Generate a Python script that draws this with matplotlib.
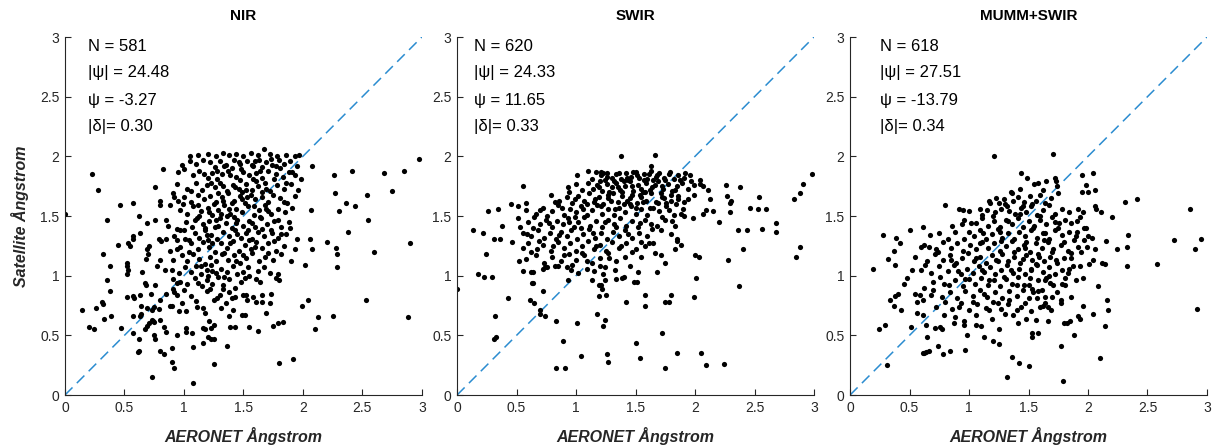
import matplotlib
matplotlib.use("Agg")
import matplotlib.pyplot as plt

plt.rcParams['font.family'] = ['Liberation Sans', 'DejaVu Sans']

# ---- data (AERONET vs satellite Angstrom) ----
titles = ["NIR", "SWIR", "MUMM+SWIR"]
n_vals = ["581", "620", "618"]
abs_psi = ["24.48", "24.33", "27.51"]
psi = ["-3.27", "11.65", "-13.79"]
abs_delta = ["0.30", "0.33", "0.34"]
ticks = [0, 0.5, 1, 1.5, 2, 2.5, 3]
tick_labels = ["0", "0.5", "1", "1.5", "2", "2.5", "3"]

nir_pts = [
    (1.12, 2.01), (1.2, 2.02), (1.27, 2.0), (1.33, 2.03), (1.38, 2.01), (1.44, 2.02), (1.5, 2.0), (1.56, 2.03),
    (1.62, 2.01), (1.67, 2.06), (1.72, 2.02), (1.78, 2.0), (1.86, 2.01), (1.93, 2.0), (1.97, 2.01), (1.05, 2.0),
    (0.98, 1.93), (1.05, 1.96), (1.1, 1.94), (1.16, 1.97), (1.22, 1.95), (1.3, 1.96), (1.35, 1.93), (1.42, 1.97),
    (1.47, 1.94), (1.53, 1.96), (1.58, 1.92), (1.63, 1.97), (1.69, 1.95), (1.74, 1.93), (1.8, 1.97), (1.84, 1.94),
    (1.89, 1.96), (1.95, 1.92), (2.08, 1.92), (1.26, 1.91), (1.4, 1.9), (1.66, 1.91), (2.98, 1.98),
    (0.82, 1.89), (0.95, 1.87), (1.0, 1.89), (1.08, 1.84), (1.13, 1.88), (1.2, 1.82), (1.24, 1.86), (1.32, 1.85),
    (1.37, 1.88), (1.44, 1.83), (1.5, 1.87), (1.55, 1.84), (1.61, 1.86), (1.66, 1.82), (1.71, 1.88), (1.77, 1.85),
    (1.83, 1.83), (1.88, 1.87), (1.93, 1.84), (1.98, 1.81), (2.26, 1.84), (2.41, 1.88), (2.68, 1.86), (2.85, 1.88),
    (0.23, 1.85), (1.28, 1.81), (1.47, 1.8), (1.58, 1.81),
    (0.28, 1.72), (0.76, 1.74), (0.94, 1.77), (1.03, 1.73), (1.1, 1.78), (1.15, 1.72), (1.19, 1.76), (1.26, 1.74),
    (1.3, 1.78), (1.36, 1.71), (1.41, 1.76), (1.46, 1.73), (1.52, 1.77), (1.57, 1.72), (1.62, 1.75), (1.68, 1.78),
    (1.72, 1.71), (1.78, 1.76), (1.84, 1.73), (1.9, 1.77), (1.96, 1.72), (2.75, 1.71), (1.33, 1.75), (1.49, 1.7),
    (0.57, 1.61), (0.8, 1.63), (0.91, 1.69), (0.95, 1.63), (1.0, 1.66), (1.06, 1.62), (1.12, 1.68), (1.17, 1.64),
    (1.22, 1.67), (1.27, 1.62), (1.32, 1.66), (1.37, 1.69), (1.42, 1.63), (1.47, 1.67), (1.51, 1.61), (1.56, 1.68),
    (1.6, 1.64), (1.66, 1.66), (1.71, 1.62), (1.75, 1.68), (1.81, 1.65), (1.87, 1.61), (1.93, 1.67), (2.36, 1.61),
    (2.54, 1.68), (2.27, 1.69), (0.92, 1.66), (1.25, 1.6),
    (0.46, 1.59), (0.62, 1.5), (0.8, 1.59), (0.88, 1.59), (0.97, 1.55), (1.03, 1.52), (1.08, 1.58), (1.14, 1.54),
    (1.2, 1.57), (1.24, 1.51), (1.29, 1.55), (1.34, 1.59), (1.39, 1.52), (1.44, 1.56), (1.49, 1.53), (1.54, 1.58),
    (1.59, 1.51), (1.63, 1.55), (1.68, 1.59), (1.73, 1.52), (1.79, 1.56), (1.85, 1.53), (1.91, 1.57), (2.07, 1.55),
    (2.30, 1.54), (2.44, 1.58), (1.13, 1.5), (1.36, 1.5), (0.0, 1.52),
    (0.35, 1.47), (0.69, 1.44), (0.76, 1.47), (0.85, 1.47), (0.87, 1.42), (0.94, 1.39), (0.97, 1.38), (1.02, 1.45),
    (1.07, 1.41), (1.11, 1.48), (1.16, 1.43), (1.21, 1.46), (1.26, 1.41), (1.3, 1.48), (1.35, 1.44), (1.4, 1.4),
    (1.45, 1.47), (1.5, 1.42), (1.55, 1.46), (1.6, 1.41), (1.65, 1.48), (1.7, 1.43), (1.76, 1.46), (1.82, 1.41),
    (1.88, 1.45), (2.55, 1.47), (1.18, 1.4), (1.42, 1.49),
    (0.63, 1.36), (0.57, 1.33), (0.57, 1.31), (0.79, 1.31), (0.81, 1.29), (0.85, 1.31), (0.92, 1.33), (0.94, 1.30),
    (1.01, 1.31), (1.04, 1.3), (1.09, 1.36), (1.13, 1.32), (1.18, 1.38), (1.23, 1.34), (1.28, 1.31), (1.33, 1.37),
    (1.38, 1.33), (1.43, 1.38), (1.48, 1.32), (1.52, 1.36), (1.57, 1.31), (1.62, 1.37), (1.67, 1.33), (1.73, 1.38),
    (1.79, 1.32), (1.86, 1.35), (1.95, 1.31), (2.06, 1.31), (2.38, 1.37), (1.2, 1.3),
    (0.53, 1.27), (0.55, 1.25), (0.45, 1.26), (0.69, 1.22), (0.71, 1.25), (0.97, 1.24), (0.94, 1.22), (1.06, 1.27),
    (1.12, 1.22), (1.16, 1.28), (1.21, 1.24), (1.26, 1.2), (1.31, 1.27), (1.36, 1.23), (1.41, 1.29), (1.46, 1.21),
    (1.51, 1.26), (1.56, 1.22), (1.61, 1.28), (1.66, 1.23), (1.71, 1.27), (1.77, 1.21), (1.84, 1.25), (1.93, 1.22),
    (2.08, 1.22), (2.2, 1.28), (2.28, 1.23), (2.90, 1.27), (2.60, 1.2),
    (0.32, 1.18), (0.52, 1.11), (0.68, 1.14), (0.7, 1.18), (0.8, 1.13), (0.91, 1.13), (0.98, 1.17), (1.03, 1.12),
    (1.08, 1.18), (1.13, 1.14), (1.18, 1.1), (1.22, 1.16), (1.27, 1.12), (1.32, 1.18), (1.37, 1.13), (1.42, 1.17),
    (1.47, 1.11), (1.52, 1.15), (1.57, 1.19), (1.63, 1.12), (1.68, 1.16), (1.75, 1.13), (1.82, 1.18), (2.29, 1.18),
    (1.9, 1.12),
    (0.38, 1.08), (0.52, 1.08), (0.53, 1.05), (0.77, 1.08), (0.9, 1.05), (0.96, 1.02), (1.01, 1.07), (1.06, 1.03),
    (1.1, 1.08), (1.14, 1.01), (1.19, 1.05), (1.23, 1.09), (1.27, 1.02), (1.31, 1.06), (1.36, 1.03), (1.41, 1.08),
    (1.45, 1.01), (1.5, 1.03), (1.55, 1.0), (1.62, 1.04), (1.67, 1.07), (1.72, 1.02), (1.79, 1.01), (2.02, 1.09),
    (2.29, 1.07), (0.65, 1.03), (1.2, 1.0),
    (0.35, 0.96), (0.67, 0.94), (0.68, 0.92), (0.76, 0.92), (0.91, 0.97), (0.94, 0.94), (0.97, 0.95), (1.03, 0.93),
    (1.09, 0.98), (1.15, 0.91), (1.19, 0.96), (1.24, 0.93), (1.29, 0.99), (1.33, 0.92), (1.38, 0.97), (1.43, 0.9),
    (1.48, 0.95), (1.51, 0.98), (1.61, 0.97), (1.77, 0.98), (1.8, 0.96), (1.22, 0.89), (0.52, 1.01),
    (0.38, 0.87), (0.52, 0.82), (0.57, 0.83), (0.58, 0.81), (0.63, 0.84), (0.72, 0.85), (0.85, 0.85), (0.91, 0.89),
    (0.94, 0.84), (1.0, 0.88), (1.06, 0.83), (1.19, 0.87), (1.25, 0.8), (1.28, 0.81), (1.33, 0.89), (1.38, 0.86),
    (1.43, 0.82), (1.5, 0.84), (1.52, 0.84), (1.58, 0.82), (1.66, 0.84), (1.73, 0.85), (1.53, 0.8), (2.04, 0.8),
    (2.53, 0.8), (1.4, 0.81),
    (0.14, 0.71), (0.26, 0.73), (0.31, 0.78), (0.32, 0.76), (0.64, 0.75), (0.69, 0.73), (0.73, 0.71), (0.75, 0.74),
    (0.79, 0.72), (0.8, 0.8), (0.88, 0.75), (0.9, 0.75), (0.96, 0.7), (1.02, 0.7), (1.1, 0.79), (1.11, 0.74),
    (1.16, 0.73), (1.31, 0.73), (1.35, 0.77), (1.41, 0.71), (1.61, 0.78), (1.66, 0.78), (1.72, 0.77), (1.99, 0.75),
    (0.33, 0.64), (0.39, 0.66), (0.57, 0.66), (0.63, 0.66), (0.64, 0.68), (0.73, 0.63), (0.74, 0.62), (0.75, 0.61),
    (0.8, 0.63), (1.21, 0.62), (1.38, 0.66), (1.49, 0.67), (1.51, 0.67), (1.69, 0.69), (1.83, 0.61), (1.79, 0.6),
    (2.25, 0.66), (2.13, 0.65), (2.88, 0.65), (0.71, 0.6),
    (0.2, 0.57), (0.24, 0.55), (0.47, 0.56), (0.57, 0.52), (0.69, 0.58), (0.67, 0.55), (0.83, 0.57), (0.85, 0.53),
    (1.02, 0.56), (1.02, 0.53), (1.07, 0.52), (1.18, 0.55), (1.16, 0.56), (1.23, 0.56), (1.25, 0.59), (1.43, 0.57),
    (1.39, 0.57), (1.55, 0.57), (1.62, 0.54), (1.75, 0.58), (2.1, 0.55), (0.94, 0.5),
    (0.62, 0.47), (0.75, 0.5), (0.76, 0.47), (0.9, 0.39), (1.08, 0.4), (1.16, 0.44), (1.2, 0.49), (1.23, 0.47),
    (1.25, 0.47), (1.36, 0.41),
    (0.61, 0.36), (0.62, 0.37), (0.8, 0.37), (0.83, 0.34), (0.9, 0.28), (0.92, 0.23), (0.73, 0.15), (1.08, 0.1),
    (1.25, 0.26), (1.8, 0.27), (1.92, 0.3),
    (1.17, 1.85), (1.23, 1.78), (1.29, 1.69), (1.34, 1.92), (1.39, 1.84), (1.43, 1.74), (1.48, 1.89), (1.53, 1.66),
    (1.57, 1.93), (1.61, 1.79), (1.64, 1.88), (1.69, 1.73), (1.73, 1.98), (1.76, 1.81), (1.81, 1.9), (1.86, 1.78),
    (1.91, 1.87), (1.21, 1.53), (1.27, 1.47), (1.33, 1.63), (1.38, 1.56), (1.44, 1.44), (1.49, 1.64), (1.54, 1.38),
    (1.59, 1.58), (1.64, 1.49), (1.69, 1.56), (1.74, 1.36), (1.79, 1.47), (1.84, 1.62), (1.89, 1.4), (1.19, 1.34),
    (1.24, 1.27), (1.29, 1.42), (1.34, 1.19), (1.39, 1.27), (1.45, 1.35), (1.5, 1.17), (1.55, 1.3), (1.6, 1.24),
    (1.66, 1.39), (1.71, 1.19), (1.76, 1.29), (1.14, 1.08), (1.24, 1.04), (1.34, 0.99), (1.44, 1.12), (1.54, 1.07),
    (1.64, 0.95), (1.04, 1.2), (1.09, 1.47), (1.0, 1.38), (0.99, 1.6), (1.06, 1.71), (1.12, 1.59), (1.28, 1.88),
    (1.46, 1.95), (1.6, 1.96), (1.77, 1.92), (1.66, 1.7), (1.52, 1.72), (1.4, 1.61), (1.31, 1.52), (1.57, 1.44),
    (1.71, 1.54), (1.82, 1.35), (0.88, 1.21), (0.84, 1.05), (0.92, 0.86), (1.12, 0.94), (1.3, 0.84), (0.98, 0.77),
    (1.18, 0.69),
]

swir_pts = [
    (1.38, 2.0), (1.66, 2.01), (1.17, 1.87), (1.1, 1.88), (1.21, 1.87), (1.63, 1.92),
    (1.26, 1.86), (1.3, 1.82), (1.34, 1.85), (1.38, 1.81), (1.42, 1.86), (1.46, 1.83), (1.5, 1.87), (1.53, 1.82),
    (1.57, 1.85), (1.6, 1.81), (1.63, 1.88), (1.67, 1.83), (1.7, 1.86), (1.74, 1.82), (1.78, 1.85), (1.82, 1.81),
    (1.86, 1.84), (1.91, 1.82), (1.96, 1.84), (2.04, 1.8), (2.98, 1.85), (1.24, 1.8), (1.44, 1.8), (1.65, 1.8),
    (1.01, 1.84), (1.21, 1.84),
    (0.55, 1.75), (0.93, 1.74), (1.0, 1.77), (1.05, 1.72), (1.1, 1.78), (1.14, 1.73), (1.18, 1.76), (1.22, 1.71),
    (1.26, 1.77), (1.3, 1.74), (1.34, 1.78), (1.37, 1.72), (1.41, 1.75), (1.45, 1.79), (1.48, 1.71), (1.52, 1.76),
    (1.55, 1.73), (1.59, 1.78), (1.62, 1.72), (1.66, 1.76), (1.69, 1.79), (1.73, 1.73), (1.77, 1.77), (1.81, 1.71),
    (1.85, 1.75), (1.89, 1.78), (1.94, 1.73), (1.99, 1.76), (2.07, 1.75), (2.11, 1.72), (2.04, 1.77), (2.26, 1.76),
    (2.38, 1.74), (2.91, 1.77), (1.28, 1.7), (1.58, 1.7), (1.2, 1.79), (1.4, 1.79),
    (0.45, 1.6), (0.58, 1.61), (0.79, 1.68), (0.86, 1.63), (0.92, 1.66), (0.97, 1.61), (1.02, 1.67), (1.07, 1.63),
    (1.11, 1.69), (1.15, 1.62), (1.19, 1.66), (1.23, 1.6), (1.27, 1.65), (1.31, 1.69), (1.35, 1.62), (1.39, 1.67),
    (1.43, 1.63), (1.47, 1.68), (1.51, 1.61), (1.55, 1.66), (1.59, 1.63), (1.63, 1.69), (1.67, 1.62), (1.72, 1.66),
    (1.76, 1.61), (1.8, 1.68), (1.86, 1.64), (1.91, 1.62), (1.99, 1.68), (2.13, 1.64), (2.27, 1.67), (2.3, 1.63),
    (2.29, 1.61), (2.54, 1.66), (2.88, 1.69), (2.83, 1.64), (1.09, 1.6), (1.45, 1.6),
    (0.26, 1.54), (0.34, 1.56), (0.51, 1.58), (0.58, 1.55), (0.66, 1.52), (0.72, 1.57), (0.8, 1.54), (0.85, 1.59),
    (0.9, 1.51), (0.95, 1.56), (1.0, 1.53), (1.04, 1.58), (1.09, 1.51), (1.13, 1.55), (1.18, 1.59), (1.22, 1.52),
    (1.27, 1.56), (1.32, 1.51), (1.36, 1.57), (1.41, 1.53), (1.46, 1.58), (1.5, 1.52), (1.55, 1.56), (1.6, 1.51),
    (1.65, 1.57), (1.7, 1.54), (1.76, 1.58), (1.82, 1.51), (1.88, 1.52), (1.91, 1.5), (2.07, 1.52), (2.09, 1.55),
    (2.15, 1.54), (2.29, 1.53), (2.46, 1.57), (2.53, 1.56), (2.6, 1.56),
    (0.38, 1.42), (0.51, 1.48), (0.53, 1.41), (0.6, 1.45), (0.65, 1.49), (0.7, 1.43), (0.75, 1.47), (0.8, 1.41),
    (0.84, 1.46), (0.89, 1.43), (0.93, 1.48), (0.98, 1.41), (1.02, 1.45), (1.07, 1.49), (1.12, 1.42), (1.17, 1.46),
    (1.22, 1.41), (1.27, 1.47), (1.32, 1.43), (1.37, 1.48), (1.42, 1.42), (1.47, 1.46), (1.52, 1.41), (1.58, 1.47),
    (1.63, 1.43), (1.68, 1.42), (1.72, 1.49), (1.75, 1.47), (1.81, 1.46), (1.83, 1.42), (1.98, 1.48), (2.2, 1.45),
    (2.68, 1.44), (0.99, 1.49),
    (0.13, 1.38), (0.22, 1.36), (0.31, 1.31), (0.36, 1.31), (0.55, 1.36), (0.62, 1.33), (0.68, 1.38), (0.73, 1.32),
    (0.78, 1.36), (0.83, 1.31), (0.87, 1.37), (0.92, 1.33), (0.96, 1.38), (1.01, 1.31), (1.06, 1.35), (1.11, 1.39),
    (1.16, 1.32), (1.21, 1.36), (1.26, 1.31), (1.31, 1.37), (1.36, 1.33), (1.41, 1.38), (1.47, 1.32), (1.53, 1.36),
    (1.6, 1.33), (1.71, 1.38), (1.8, 1.35), (1.85, 1.31), (2.36, 1.38), (2.44, 1.38), (2.56, 1.39), (2.68, 1.37),
    (0.46, 1.28), (0.55, 1.23), (0.6, 1.27), (0.67, 1.22), (0.72, 1.26), (0.79, 1.21), (0.85, 1.28), (0.9, 1.23),
    (0.95, 1.27), (1.0, 1.21), (1.05, 1.25), (1.1, 1.29), (1.15, 1.22), (1.2, 1.26), (1.25, 1.21), (1.3, 1.28),
    (1.36, 1.23), (1.42, 1.27), (1.5, 1.22), (1.61, 1.27), (1.65, 1.27), (1.85, 1.29), (1.88, 1.26), (1.83, 1.22),
    (2.4, 1.22), (2.88, 1.24), (1.55, 1.28),
    (0.24, 1.18), (0.52, 1.12), (0.58, 1.14), (0.66, 1.17), (0.73, 1.11), (0.8, 1.16), (0.87, 1.12), (0.94, 1.18),
    (1.0, 1.13), (1.07, 1.17), (1.13, 1.11), (1.2, 1.15), (1.27, 1.19), (1.34, 1.12), (1.41, 1.16), (1.55, 1.16),
    (1.66, 1.19), (1.71, 1.17), (1.75, 1.11), (2.0, 1.17), (2.03, 1.16), (2.28, 1.13), (2.85, 1.16),
    (0.18, 1.01), (0.55, 1.04), (0.62, 1.03), (0.64, 1.03), (0.72, 1.06), (0.74, 1.07), (0.76, 1.07), (0.82, 1.08),
    (0.85, 1.08), (0.92, 1.07), (0.96, 1.05), (1.09, 1.06), (1.23, 1.01), (1.24, 1.07), (1.52, 1.03), (1.68, 1.03),
    (1.02, 1.02), (1.15, 1.04), (1.33, 1.05), (1.45, 1.08),
    (0.23, 0.99), (0.29, 0.99), (0.63, 0.94), (0.64, 0.94), (0.93, 0.96), (1.13, 0.96), (1.24, 0.96), (1.19, 0.92),
    (1.21, 0.92), (1.34, 0.97), (1.39, 0.98), (1.4, 0.99), (1.49, 0.95), (1.51, 0.95), (2.01, 0.98), (2.37, 0.91),
    (0.0, 0.89), (0.43, 0.81), (0.72, 0.87), (0.61, 0.8), (1.22, 0.89), (1.19, 0.83), (1.25, 0.84), (1.58, 0.84),
    (1.8, 0.84), (1.99, 0.82),
    (0.65, 0.77), (0.7, 0.71), (1.42, 0.78), (1.75, 0.78), (1.78, 0.78), (1.58, 0.75),
    (0.32, 0.66), (0.7, 0.68), (0.74, 0.66), (0.83, 0.62), (1.18, 0.68), (1.24, 0.63),
    (1.01, 0.6), (1.23, 0.58), (0.31, 0.47), (0.33, 0.49), (0.89, 0.45), (1.5, 0.44), (1.72, 0.52), (1.04, 0.33),
    (1.26, 0.34), (1.27, 0.28), (1.54, 0.31), (1.85, 0.35), (2.05, 0.35), (0.83, 0.23), (0.91, 0.23), (1.75, 0.23),
    (2.09, 0.25), (2.24, 0.26),
    (1.13, 1.81), (1.19, 1.74), (1.23, 1.86), (1.27, 1.68), (1.32, 1.79), (1.36, 1.86), (1.39, 1.7), (1.43, 1.82),
    (1.47, 1.75), (1.51, 1.84), (1.54, 1.68), (1.57, 1.8), (1.61, 1.85), (1.64, 1.74), (1.68, 1.84), (1.71, 1.69),
    (1.75, 1.8), (1.79, 1.87), (1.83, 1.72), (1.87, 1.8), (1.92, 1.86), (1.97, 1.79), (1.16, 1.64), (1.21, 1.58),
    (1.29, 1.63), (1.33, 1.56), (1.4, 1.6), (1.45, 1.65), (1.5, 1.57), (1.56, 1.62), (1.62, 1.57), (1.69, 1.61),
    (1.74, 1.65), (1.78, 1.55), (1.84, 1.6), (1.94, 1.64), (1.06, 1.56), (0.99, 1.64), (0.94, 1.7), (0.88, 1.57),
    (0.82, 1.62), (0.76, 1.5), (0.7, 1.55), (0.64, 1.4), (0.59, 1.35), (0.69, 1.29), (0.77, 1.44), (0.86, 1.34),
    (0.94, 1.45), (1.04, 1.4), (1.14, 1.36), (1.24, 1.45), (1.34, 1.41), (1.44, 1.35), (1.54, 1.44), (1.64, 1.39),
    (1.05, 1.19), (1.17, 1.25), (1.28, 1.15), (1.38, 1.25), (1.47, 1.2), (0.81, 1.25), (0.9, 1.17), (0.62, 1.2),
    (0.97, 1.09), (1.09, 1.12), (1.2, 1.08), (1.58, 1.25), (1.86, 1.67), (1.72, 1.75), (1.48, 1.87), (1.26, 1.83),
    (1.56, 1.7), (1.35, 1.74), (1.8, 1.63), (1.9, 1.56),
]

mumm_pts = [
    (1.21, 2.0), (1.71, 2.02), (1.44, 1.86), (1.49, 1.82), (1.72, 1.82), (1.95, 1.84), (2.04, 1.86),
    (1.43, 1.73), (1.55, 1.77), (1.58, 1.78), (1.65, 1.79), (1.73, 1.79), (1.74, 1.75), (1.98, 1.76), (2.06, 1.72),
    (2.0, 1.7), (1.95, 1.7), (1.35, 1.7), (1.62, 1.72),
    (1.17, 1.63), (1.18, 1.61), (1.23, 1.65), (1.25, 1.61), (1.36, 1.69), (1.37, 1.63), (1.41, 1.66), (1.46, 1.62),
    (1.51, 1.67), (1.56, 1.63), (1.6, 1.68), (1.64, 1.61), (1.69, 1.65), (1.75, 1.69), (2.31, 1.62), (2.41, 1.64),
    (1.29, 1.64), (1.53, 1.6),
    (0.8, 1.59), (0.92, 1.56), (0.95, 1.55), (1.0, 1.54), (1.09, 1.56), (1.11, 1.51), (1.27, 1.56), (1.32, 1.58),
    (1.34, 1.54), (1.39, 1.52), (1.44, 1.57), (1.48, 1.53), (1.52, 1.58), (1.57, 1.51), (1.62, 1.55), (1.67, 1.59),
    (1.72, 1.52), (1.78, 1.56), (1.84, 1.53), (1.92, 1.56), (2.06, 1.58), (2.07, 1.56), (2.11, 1.53), (2.86, 1.56),
    (1.96, 1.53), (1.2, 1.5),
    (0.61, 1.41), (0.94, 1.43), (0.96, 1.47), (1.06, 1.44), (1.11, 1.48), (1.16, 1.42), (1.21, 1.46), (1.26, 1.41),
    (1.31, 1.47), (1.36, 1.43), (1.41, 1.48), (1.45, 1.41), (1.5, 1.46), (1.55, 1.42), (1.6, 1.47), (1.65, 1.43),
    (1.7, 1.49), (1.76, 1.44), (1.81, 1.47), (1.86, 1.44), (1.91, 1.46), (1.93, 1.49), (2.2, 1.49), (1.97, 1.4),
    (0.28, 1.34), (0.39, 1.32), (0.5, 1.38), (0.67, 1.34), (0.75, 1.36), (0.82, 1.31), (0.88, 1.37), (1.0, 1.37),
    (1.04, 1.33), (1.09, 1.38), (1.14, 1.31), (1.19, 1.35), (1.24, 1.39), (1.28, 1.32), (1.33, 1.36), (1.38, 1.31),
    (1.42, 1.37), (1.47, 1.33), (1.52, 1.38), (1.57, 1.32), (1.62, 1.36), (1.67, 1.31), (1.72, 1.38), (1.78, 1.34),
    (1.84, 1.37), (1.9, 1.33), (1.91, 1.37), (2.0, 1.33), (2.03, 1.32), (1.97, 1.3), (2.34, 1.34), (2.72, 1.3),
    (2.95, 1.31),
    (0.42, 1.27), (0.37, 1.21), (0.6, 1.24), (0.62, 1.26), (0.66, 1.24), (0.72, 1.22), (0.78, 1.28), (0.85, 1.23),
    (0.9, 1.27), (0.95, 1.21), (1.01, 1.26), (1.06, 1.22), (1.11, 1.28), (1.16, 1.23), (1.21, 1.27), (1.26, 1.21),
    (1.31, 1.25), (1.36, 1.29), (1.41, 1.22), (1.46, 1.26), (1.51, 1.2), (1.56, 1.27), (1.61, 1.23), (1.66, 1.28),
    (1.71, 1.22), (1.77, 1.26), (1.83, 1.21), (1.92, 1.24), (1.99, 1.24), (2.06, 1.22), (2.15, 1.29), (2.24, 1.22),
    (2.33, 1.24), (2.9, 1.22),
    (0.32, 1.14), (0.55, 1.16), (0.65, 1.12), (0.71, 1.18), (0.78, 1.13), (0.84, 1.17), (0.89, 1.11), (0.94, 1.15),
    (0.99, 1.19), (1.04, 1.12), (1.09, 1.16), (1.14, 1.11), (1.19, 1.17), (1.23, 1.13), (1.28, 1.18), (1.33, 1.12),
    (1.38, 1.16), (1.43, 1.11), (1.48, 1.17), (1.53, 1.13), (1.58, 1.18), (1.63, 1.12), (1.68, 1.16), (1.74, 1.11),
    (1.8, 1.15), (1.86, 1.19), (2.04, 1.13), (2.12, 1.11), (2.14, 1.1), (2.58, 1.1),
    (0.19, 1.06), (0.38, 1.09), (0.6, 1.05), (0.68, 1.02), (0.75, 1.08), (0.82, 1.04), (0.87, 1.09), (0.93, 1.01),
    (0.98, 1.06), (1.03, 1.02), (1.08, 1.08), (1.13, 1.03), (1.18, 1.07), (1.22, 1.01), (1.27, 1.05), (1.32, 1.09),
    (1.37, 1.02), (1.42, 1.06), (1.47, 1.01), (1.52, 1.05), (1.57, 1.09), (1.62, 1.03), (1.67, 1.07), (1.72, 1.01),
    (1.78, 1.05), (1.83, 1.02), (1.93, 1.08), (2.33, 1.08), (1.87, 1.08),
    (0.48, 0.98), (0.62, 0.9), (0.7, 0.95), (0.76, 0.99), (0.83, 0.92), (0.88, 0.96), (0.95, 0.91), (1.0, 0.97),
    (1.05, 0.93), (1.1, 0.98), (1.16, 0.92), (1.21, 0.96), (1.26, 0.91), (1.31, 0.97), (1.36, 0.93), (1.41, 0.99),
    (1.46, 0.92), (1.5, 0.92), (1.53, 0.89), (1.58, 0.96), (1.64, 0.96), (1.65, 0.98), (1.68, 0.94), (1.71, 0.92),
    (1.81, 0.92), (1.81, 0.98), (2.08, 0.91),
    (0.34, 0.8), (0.38, 0.83), (0.4, 0.85), (0.55, 0.85), (0.59, 0.84), (0.61, 0.8), (0.7, 0.88), (0.77, 0.82),
    (0.84, 0.86), (0.9, 0.81), (0.97, 0.87), (1.03, 0.83), (1.09, 0.88), (1.15, 0.82), (1.22, 0.86), (1.28, 0.81),
    (1.34, 0.87), (1.4, 0.83), (1.45, 0.88), (1.5, 0.81), (1.57, 0.81), (1.58, 0.87), (1.64, 0.82), (1.7, 0.82),
    (1.77, 0.8), (1.86, 0.82), (2.16, 0.8),
    (0.37, 0.75), (0.43, 0.71), (0.72, 0.74), (0.8, 0.78), (0.86, 0.72), (0.93, 0.77), (1.0, 0.71), (1.07, 0.76),
    (1.14, 0.73), (1.2, 0.78), (1.27, 0.72), (1.33, 0.76), (1.4, 0.71), (1.47, 0.77), (1.6, 0.74), (1.62, 0.75),
    (1.66, 0.74), (1.69, 0.71), (1.77, 0.77), (1.96, 0.75), (2.17, 0.71), (2.92, 0.72),
    (0.56, 0.69), (0.61, 0.67), (0.88, 0.65), (0.96, 0.62), (1.06, 0.67), (1.19, 0.64), (1.3, 0.68), (1.48, 0.64),
    (1.56, 0.63), (1.66, 0.62), (1.8, 0.6), (1.82, 0.6), (1.85, 0.62), (1.92, 0.66), (1.93, 0.64), (2.04, 0.68),
    (0.24, 0.55), (0.29, 0.59), (0.51, 0.57), (0.64, 0.59), (0.71, 0.56), (0.76, 0.57), (0.77, 0.55), (0.96, 0.59),
    (0.98, 0.5), (1.06, 0.59), (1.25, 0.55), (1.53, 0.52), (1.53, 0.49), (1.58, 0.52), (1.88, 0.5), (2.14, 0.58),
    (1.13, 0.49),
    (0.31, 0.25), (0.61, 0.35), (0.62, 0.35), (0.64, 0.36), (0.66, 0.37), (0.65, 0.49), (0.74, 0.41), (0.78, 0.34),
    (0.84, 0.37), (0.97, 0.38), (1.32, 0.15), (1.36, 0.32), (1.42, 0.27), (1.5, 0.24), (1.77, 0.41), (1.79, 0.12),
    (2.1, 0.31), (1.2, 0.45), (1.25, 0.43),
    (1.02, 1.44), (1.12, 1.36), (1.22, 1.53), (1.27, 1.29), (1.33, 1.46), (1.38, 1.2), (1.43, 1.52), (1.48, 1.28),
    (1.54, 1.4), (1.59, 1.16), (1.64, 1.36), (1.7, 1.2), (1.75, 1.4), (1.8, 1.28), (1.86, 1.15), (1.06, 1.15),
    (1.11, 1.05), (1.17, 0.96), (1.24, 1.12), (1.29, 0.99), (1.35, 1.05), (1.4, 0.92), (1.45, 1.14), (1.51, 0.98),
    (1.56, 1.1), (1.61, 0.88), (1.67, 1.0), (1.73, 1.13), (1.78, 0.93), (1.84, 1.06), (1.9, 0.96), (0.97, 0.97),
    (0.91, 1.04), (0.85, 1.13), (0.79, 0.93), (0.74, 1.2), (0.68, 0.84), (0.63, 1.09), (0.92, 0.74), (1.03, 0.78),
    (1.13, 0.85), (1.24, 0.77), (1.34, 0.8), (1.44, 0.74), (1.54, 0.86), (1.64, 0.77), (1.74, 0.86), (1.96, 0.98),
    (2.01, 1.1), (1.94, 1.2), (1.88, 1.3), (1.98, 1.4), (1.09, 1.27), (0.96, 1.31), (0.86, 1.42), (1.15, 1.55),
    (1.3, 1.6), (1.45, 1.58), (1.6, 1.5), (1.72, 1.45), (1.17, 0.71), (1.37, 0.67), (1.52, 0.7), (1.1, 0.58),
    (1.41, 0.6), (0.87, 0.6), (0.79, 0.67), (0.52, 1.05), (0.45, 0.93), (0.56, 0.78), (1.26, 1.37), (1.47, 1.23),
    (1.63, 1.3), (1.52, 1.06),
]

stats_x = [0.19, 0.14, 0.25]
stats_y = [2.92, 2.70, 2.47, 2.25]
panels = [nir_pts, swir_pts, mumm_pts]

fig = plt.figure(figsize=(12.14, 4.46), dpi=100)
axes_left = [0.0535, 0.3765, 0.7002]
axis_grey = '#262626'

for i, pts in enumerate(panels):
    ax = fig.add_axes([axes_left[i], 0.1143, 0.294, 0.8027])
    xs = [p[0] for p in pts]
    ys = [p[1] for p in pts]
    ax.plot([0, 3], [0, 3], linestyle=(0, (7, 4)), color='#2b8cd0', linewidth=1.1, zorder=1)
    ax.scatter(xs, ys, s=14, c='black', linewidths=0, zorder=2)

    ax.set_xlim(0, 3)
    ax.set_ylim(0, 3)
    ax.set_xticks(ticks)
    ax.set_xticklabels(tick_labels)
    ax.set_yticks(ticks)
    ax.set_yticklabels(tick_labels)
    ax.tick_params(direction='in', length=4, width=0.8, labelsize=10, colors=axis_grey, pad=4)
    for side in ['top', 'right']:
        ax.spines[side].set_visible(False)
    for side in ['left', 'bottom']:
        ax.spines[side].set_color(axis_grey)
        ax.spines[side].set_linewidth(0.8)

    ax.text(0.5, 1.06, titles[i], transform=ax.transAxes, ha='center', va='center',
            fontsize=11, fontweight='bold', color='black')

    lines = ["N = " + n_vals[i], "|ψ| = " + abs_psi[i], "ψ = " + psi[i], "|δ|= " + abs_delta[i]]
    for j, line in enumerate(lines):
        ax.text(stats_x[i], stats_y[j], line, ha='left', va='center', fontsize=12, color='black')

    ax.set_xlabel("AERONET Ångstrom", fontsize=11.5, fontweight='bold', style='italic', color=axis_grey)
    ax.xaxis.set_label_coords(0.5, -0.115)
    ax.xaxis.label.set_va('center')
    if i == 0:
        ax.set_ylabel("Satellite Ångstrom", fontsize=11.5, fontweight='bold', style='italic', color=axis_grey)
        ax.yaxis.set_label_coords(-0.126, 0.5)
        ax.yaxis.label.set_va('center')

fig.savefig("out.png", dpi=100)
